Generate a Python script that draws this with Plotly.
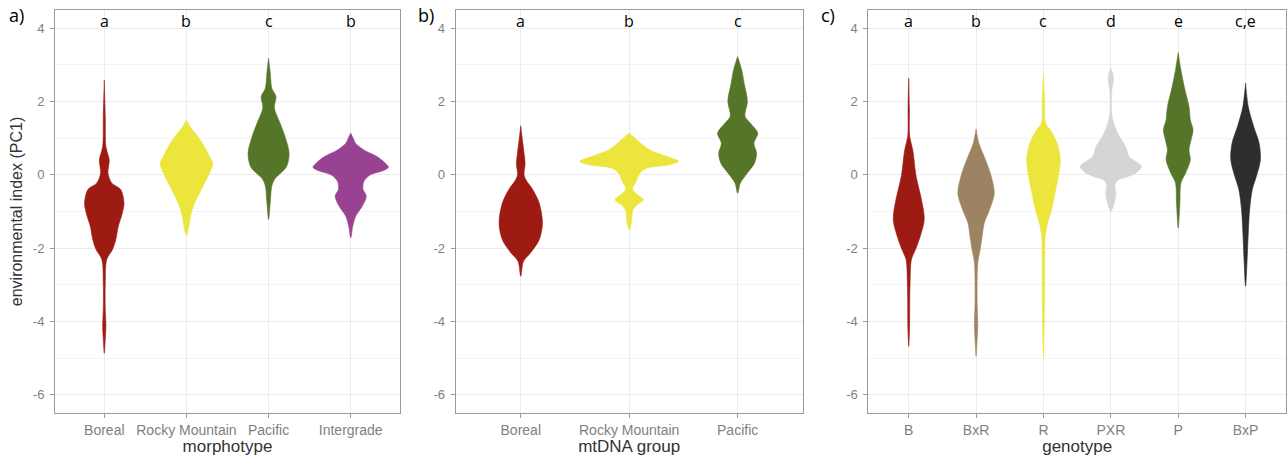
import plotly.graph_objects as go

# ---------------- data: violin outlines ----------------
# Each group: y levels (environmental index PC1) and violin half-width (category units)

# Panel a) morphotype
morph_cats = ["Boreal", "Rocky Mountain", "Pacific", "Intergrade"]
morph_letters = ["a", "b", "c", "b"]
morph_boreal_y = [-4.87, -4.49, -4.13, -3.68, -2.95, -2.31, -2.04, -1.77, -1.41, -1.04, -0.77, -0.40, -0.22, 0.05, 0.41, 0.77, 1.59, 2.59]
morph_boreal_w = [0, 0.012, 0.02, 0.012, 0.012, 0.03, 0.10, 0.14, 0.17, 0.22, 0.24, 0.20, 0.09, 0.045, 0.06, 0.02, 0.012, 0]
morph_rocky_y = [-1.65, -1.4, -1.13, -0.77, -0.4, -0.1, 0.15, 0.32, 0.5, 0.69, 1.05, 1.3, 1.5]
morph_rocky_w = [0, 0.03, 0.05, 0.10, 0.18, 0.25, 0.30, 0.32, 0.28, 0.24, 0.14, 0.05, 0]
morph_pacific_y = [-1.22, -0.77, -0.3, -0.1, 0.05, 0.23, 0.59, 1.05, 1.41, 1.83, 2.14, 2.36, 2.8, 3.18]
morph_pacific_w = [0, 0.02, 0.04, 0.08, 0.15, 0.22, 0.25, 0.20, 0.14, 0.07, 0.09, 0.04, 0.02, 0]
morph_inter_y = [-1.72, -1.4, -1.13, -0.86, -0.58, -0.4, -0.18, 0.0, 0.12, 0.21, 0.32, 0.5, 0.68, 0.86, 1.0, 1.14]
morph_inter_w = [0, 0.025, 0.06, 0.14, 0.19, 0.15, 0.16, 0.24, 0.40, 0.46, 0.42, 0.32, 0.16, 0.06, 0.03, 0]

# Panel b) mtDNA group
mt_cats = ["Boreal", "Rocky Mountain", "Pacific"]
mt_letters = ["a", "b", "c"]
mt_boreal_y = [-2.77, -2.36, -2.13, -1.77, -1.32, -0.77, -0.4, -0.15, 0.0, 0.3, 0.6, 0.96, 1.34]
mt_boreal_w = [0, 0.025, 0.09, 0.17, 0.20, 0.17, 0.11, 0.05, 0.03, 0.04, 0.03, 0.015, 0]
mt_rocky_y = [-1.5, -1.3, -1.0, -0.85, -0.68, -0.5, -0.38, -0.2, 0.05, 0.18, 0.28, 0.37, 0.5, 0.68, 0.96, 1.14]
mt_rocky_w = [0, 0.02, 0.03, 0.06, 0.13, 0.06, 0.03, 0.06, 0.10, 0.16, 0.38, 0.455, 0.35, 0.19, 0.07, 0]
mt_pacific_y = [-0.5, -0.22, 0.05, 0.32, 0.59, 0.86, 1.14, 1.4, 1.6, 2.0, 2.5, 2.87, 3.23]
mt_pacific_w = [0, 0.025, 0.09, 0.155, 0.175, 0.15, 0.185, 0.12, 0.068, 0.09, 0.06, 0.037, 0]

# Panel c) genotype
geno_cats = ["B", "BxR", "R", "PXR", "P", "BxP"]
geno_letters = ["a", "b", "c", "d", "e", "c,e"]
geno_b_y = [-4.68, -4.2, -3.5, -2.95, -2.31, -2.04, -1.68, -1.22, -0.68, -0.04, 0.68, 1.05, 1.8, 2.64]
geno_b_w = [0, 0.012, 0.015, 0.02, 0.04, 0.10, 0.17, 0.23, 0.19, 0.11, 0.06, 0.015, 0.01, 0]
geno_bxr_y = [-4.95, -4.5, -4.13, -3.4, -2.4, -2.04, -1.68, -1.32, -0.95, -0.5, 0.05, 0.5, 0.87, 1.25]
geno_bxr_w = [0, 0.015, 0.025, 0.015, 0.025, 0.06, 0.09, 0.12, 0.20, 0.27, 0.21, 0.12, 0.04, 0]
geno_r_y = [-4.95, -4.0, -2.95, -2.0, -1.68, -1.32, -0.95, -0.5, -0.04, 0.41, 0.87, 1.23, 1.41, 2.0, 2.73]
geno_r_w = [0, 0.012, 0.018, 0.02, 0.025, 0.06, 0.12, 0.17, 0.22, 0.25, 0.20, 0.10, 0.03, 0.018, 0]
geno_pxr_y = [-1.0, -0.77, -0.5, -0.3, -0.15, -0.05, 0.05, 0.23, 0.5, 0.77, 1.14, 1.59, 2.32, 2.59, 2.75, 2.91]
geno_pxr_w = [0, 0.05, 0.075, 0.06, 0.10, 0.25, 0.37, 0.455, 0.27, 0.22, 0.10, 0.02, 0.015, 0.04, 0.03, 0]
geno_p_y = [-1.45, -0.77, -0.22, 0.05, 0.41, 0.68, 0.95, 1.23, 1.5, 1.86, 2.32, 2.86, 3.34]
geno_p_w = [0, 0.025, 0.04, 0.11, 0.18, 0.16, 0.19, 0.22, 0.18, 0.16, 0.10, 0.04, 0]
geno_bxp_y = [-3.04, -2.22, -1.59, -0.95, -0.4, -0.04, 0.41, 0.87, 1.32, 1.86, 2.5]
geno_bxp_w = [0, 0.025, 0.04, 0.06, 0.10, 0.16, 0.22, 0.20, 0.12, 0.04, 0]

y_ticks = [-6, -4, -2, 0, 2, 4]

# ---------------- styling ----------------
RED = "#9e1b14"
YEL = "#ebe53c"
GRN = "#557628"
PUR = "#9a4292"
BRN = "#9c8463"
LGR = "#d5d5d5"
DRK = "#2e2e2e"

panels = [
    dict(cats=morph_cats, letters=morph_letters, title="morphotype", tag="a)",
         groups=[(morph_boreal_y, morph_boreal_w, RED), (morph_rocky_y, morph_rocky_w, YEL),
                 (morph_pacific_y, morph_pacific_w, GRN), (morph_inter_y, morph_inter_w, PUR)],
         xdom=(55 / 1287, 400 / 1287), tagx=7),
    dict(cats=mt_cats, letters=mt_letters, title="mtDNA group", tag="b)",
         groups=[(mt_boreal_y, mt_boreal_w, RED), (mt_rocky_y, mt_rocky_w, YEL),
                 (mt_pacific_y, mt_pacific_w, GRN)],
         xdom=(455.7 / 1287, 802.7 / 1287), tagx=416),
    dict(cats=geno_cats, letters=geno_letters, title="genotype", tag="c)",
         groups=[(geno_b_y, geno_b_w, RED), (geno_bxr_y, geno_bxr_w, BRN), (geno_r_y, geno_r_w, YEL),
                 (geno_pxr_y, geno_pxr_w, LGR), (geno_p_y, geno_p_w, GRN), (geno_bxp_y, geno_bxp_w, DRK)],
         xdom=(868.3 / 1287, 1286 / 1287), tagx=819),
]

W, H = 1287, 456
ydom = ((456 - 413) / 456, (456 - 10) / 456)
BORDER = "#9a9a9a"
GRID = "#ebebeb"
MINOR = "#f4f4f4"
TICKCOL = "#7f7f7f"
FONT = "Liberation Sans, Arial, sans-serif"
LETTERFONT = "Open Sans, sans-serif"

fig = go.Figure()
layout = dict(width=W, height=H, margin=dict(l=0, r=0, t=0, b=0), template="none",
              paper_bgcolor="white", plot_bgcolor="white", showlegend=False,
              hovermode=False, annotations=[])

for k, p in enumerate(panels):
    sfx = "" if k == 0 else str(k + 1)
    xa, ya = "x" + sfx, "y" + sfx
    n = len(p["cats"])
    for i, (yy, ww, col) in enumerate(p["groups"]):
        c = i + 1
        xs = [c + w for w in ww] + [c - w for w in reversed(ww)]
        ys = list(yy) + list(reversed(yy))
        fig.add_trace(go.Scatter(x=xs, y=ys, mode="lines", fill="toself", fillcolor=col,
                                 line=dict(color=col, width=0.6, shape="spline", smoothing=0.9),
                                 xaxis=xa, yaxis=ya, hoverinfo="skip"))
    axis_common = dict(showline=True, linecolor=BORDER, linewidth=1, mirror=True,
                       ticks="outside", ticklen=4, tickcolor=BORDER, automargin=False,
                       showgrid=True, gridcolor=GRID, gridwidth=1, zeroline=False)
    layout["xaxis" + sfx] = dict(axis_common, domain=list(p["xdom"]), anchor=ya,
                                 range=[0.4, n + 0.6], tickvals=list(range(1, n + 1)),
                                 ticktext=p["cats"],
                                 tickfont=dict(family=FONT, size=14, color=TICKCOL),
                                 title=dict(text=p["title"], standoff=2,
                                            font=dict(family=FONT, size=17, color="#333333")))
    layout["yaxis" + sfx] = dict(axis_common, domain=list(ydom), anchor=xa,
                                 range=[-6.5, 4.5], tickvals=y_ticks,
                                 ticktext=[str(v) for v in y_ticks],
                                 tickfont=dict(family=FONT, size=13, color=TICKCOL),
                                 minor=dict(tick0=-5, dtick=2, showgrid=True, gridcolor=MINOR, ticks=""),
                                 ticklabelstandoff=3)
    # significance letters
    for i, lab in enumerate(p["letters"]):
        layout["annotations"].append(dict(x=i + 1, y=4.21, xref=xa, yref=ya, text=lab,
                                          showarrow=False, xanchor="center", yanchor="middle",
                                          font=dict(family=LETTERFONT, size=16, color="black")))
    # panel tag
    layout["annotations"].append(dict(x=p["tagx"] / W, y=1 - 15.5 / H, xref="paper", yref="paper",
                                      text=p["tag"], showarrow=False, xanchor="left", yanchor="middle",
                                      font=dict(family=LETTERFONT, size=18, color="black")))

layout["yaxis"]["title"] = dict(text="environmental index (PC1)", standoff=6,
                                font=dict(family=FONT, size=16, color="#333333"))

fig.update_layout(**layout)
fig.write_html("out.html", config={"displayModeBar": False, "staticPlot": True},
               post_script="document.body.style.margin='0';document.body.style.overflow='hidden';")
